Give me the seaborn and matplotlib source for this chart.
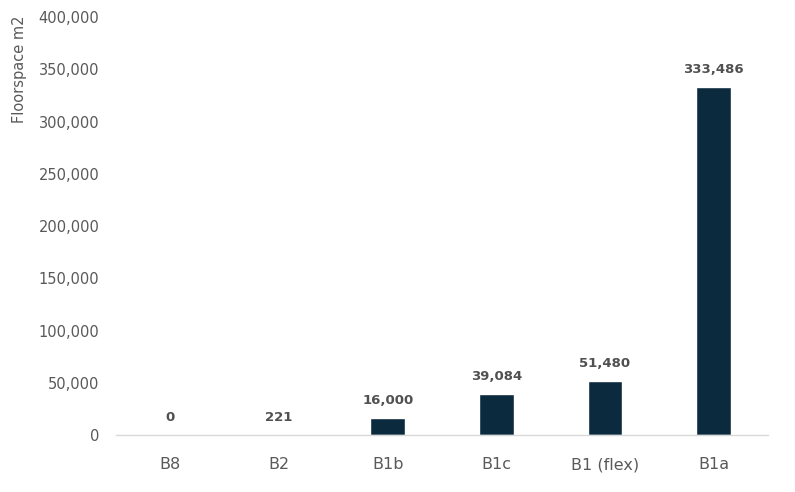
import matplotlib
matplotlib.use("Agg")
import matplotlib.pyplot as plt
import seaborn as sns
import pandas as pd
from matplotlib.ticker import FuncFormatter

categories = ["B8", "B2", "B1b", "B1c", "B1 (flex)", "B1a"]
floorspace = [0, 221, 16000, 39084, 51480, 333486]

df = pd.DataFrame({"use_class": categories, "floorspace": floorspace})

sns.set_theme(style="white")
plt.rcParams["font.family"] = ["DejaVu Sans"]

fig = plt.figure(figsize=(7.95, 4.92), dpi=100)
ax = fig.add_axes([0.146, 0.116, 0.820, 0.849])

sns.barplot(data=df, x="use_class", y="floorspace", color="#0c2a3d",
            width=0.32, saturation=1, ax=ax)

ax.set_ylim(0, 400000)
ax.set_yticks(range(0, 400001, 50000))
ax.yaxis.set_major_formatter(FuncFormatter(lambda v, p: f"{int(v):,}"))
ax.tick_params(axis="both", colors="#595959", length=0)
ax.tick_params(axis="y", pad=12, labelsize=10.5)
ax.tick_params(axis="x", pad=16, labelsize=11.5)
ax.set_xlabel("")
ax.set_ylabel("")
for s in ["top", "right", "left"]:
    ax.spines[s].set_visible(False)
ax.spines["bottom"].set_color("#d9d9d9")
ax.spines["bottom"].set_linewidth(1)

for i, v in enumerate(floorspace):
    ax.annotate(f"{v:,}", (i, v), xytext=(0, 8), textcoords="offset points",
                ha="center", va="bottom", fontsize=9.5, fontweight="bold",
                color="#505050")

fig.text(0.024, 1 - 69 / 492, "Floorspace m2", rotation=90, ha="center",
         va="center", fontsize=10.5, color="#595959")

fig.savefig("out.png", dpi=100)
